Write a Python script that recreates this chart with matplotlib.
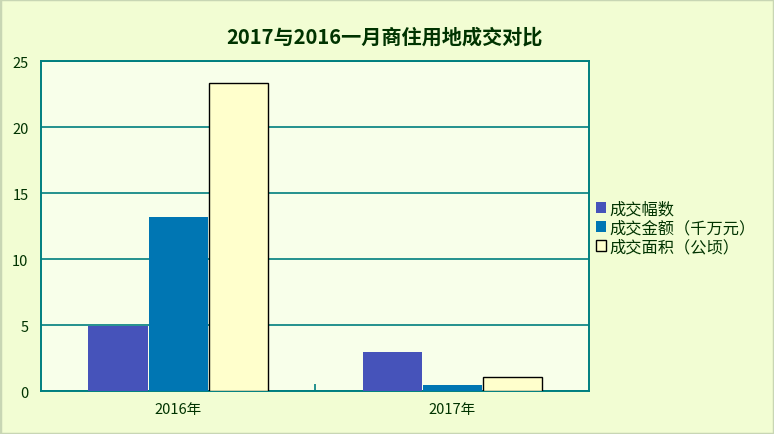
import matplotlib
matplotlib.use("Agg")
import matplotlib.pyplot as plt
from matplotlib.patches import Rectangle
import numpy as np

plt.rcParams['font.family'] = ['Noto Sans CJK SC', 'DejaVu Sans']

title = "2017与2016一月商住用地成交对比"
categories = ["2016年", "2017年"]
series_names = ["成交幅数", "成交金额（千万元）", "成交面积（公顷）"]
count_vals = [4.93, 3.0]
amount_vals = [13.18, 0.48]
area_vals = [23.38, 1.06]
y_ticks = [0, 5, 10, 15, 20, 25]

colors = ["#4653BA", "#0076B3", "#FFFFCC"]
edges = ["none", "none", "#000000"]
text_color = "#003300"
grid_color = "#007F7F"

fig = plt.figure(figsize=(7.74, 4.35), dpi=100)
fig.patch.set_facecolor("#F2FDD3")
ax = fig.add_axes([41/774, 1-392.3/435, (589.3-41)/774, (392.3-62.3)/435])
ax.set_facecolor("#F8FFEA")

x = np.arange(len(categories))
w = 0.219
series = [count_vals, amount_vals, area_vals]
for i, (vals, name) in enumerate(zip(series, series_names)):
    ax.bar(x + (i-1)*w, vals, width=w*0.985, color=colors[i],
           edgecolor=edges[i], linewidth=1.0 if edges[i] != "none" else 0,
           label=name, zorder=3)

ax.set_xlim(-0.5, 1.5)
ax.set_ylim(0, 25)
ax.set_yticks(y_ticks)
ax.set_yticklabels([str(v) for v in y_ticks])
ax.set_xticks(x)
ax.set_xticklabels(categories)
ax.set_xticks([0.5], minor=True)
ax.tick_params(axis='x', which='major', length=0, pad=8, labelsize=10.5, labelcolor=text_color)
ax.tick_params(axis='x', which='minor', direction='in', length=5, color=grid_color, width=1.2)
ax.tick_params(axis='y', length=0, pad=9, labelsize=10.5, labelcolor=text_color)
ax.yaxis.grid(True, color=grid_color, linewidth=1.2, zorder=1)
ax.set_axisbelow(True)
for s in ax.spines.values():
    s.set_color(grid_color)
    s.set_linewidth(1.4)

fig.text(0.497, 1-37/435, title, ha='center', va='center', fontsize=14.5,
         fontweight='bold', color=text_color)

leg = fig.legend(loc='upper left', bbox_to_anchor=(589/774, 1-195/435), frameon=False,
                 fontsize=11.7, handlelength=0.65, handleheight=0.65, handletextpad=0.2,
                 labelspacing=0.12, borderaxespad=0)
for t in leg.get_texts():
    t.set_color(text_color)

fig.patches.append(Rectangle((0, 0), 1, 1, transform=fig.transFigure, fill=False,
                             edgecolor="#C8D6B4", linewidth=2.5))

fig.savefig("out.png", dpi=100, facecolor=fig.get_facecolor())
